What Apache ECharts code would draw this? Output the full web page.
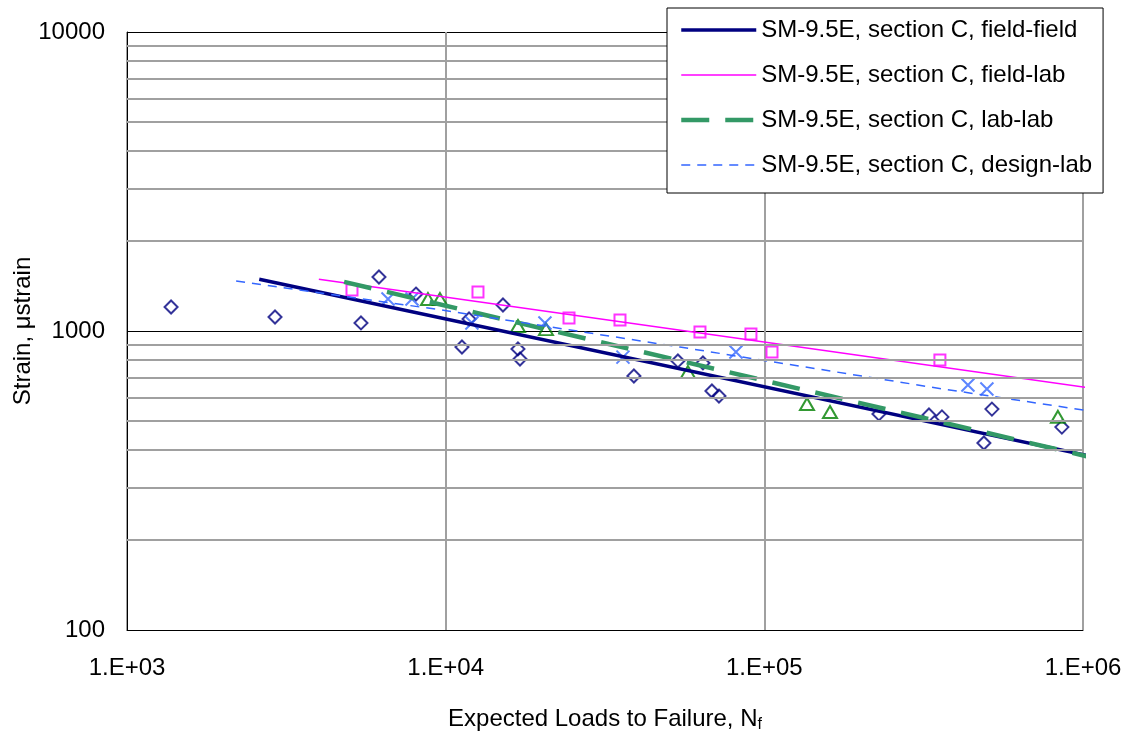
<!DOCTYPE html>
<html><head><meta charset="utf-8">
<script src="https://cdn.jsdelivr.net/npm/echarts@6/dist/echarts.min.js"></script>
<style>html,body{margin:0;padding:0;background:#fff}#c{width:1128px;height:734px}</style>
</head><body><div id="c"></div>
<script>
// ---- data ----
const lineNames = [
  'SM-9.5E, section C, field-field',
  'SM-9.5E, section C, field-lab',
  'SM-9.5E, section C, lab-lab',
  'SM-9.5E, section C, design-lab'
];
// fitted lines [loads, strain]
const fieldFieldLine = [[2600, 1490], [1050000, 382]];
const fieldLabLine   = [[4000, 1490], [1050000, 645]];
const labLabLine     = [[4800, 1460], [1050000, 379]];
const designLabLine  = [[2200, 1469], [9730, 1175], [54300, 884], [363000, 640], [1050000, 540]];
// measured points [loads, strain]
const fieldFieldPoints = [
  [1375, 1203], [2914, 1114], [5423, 1064], [6176, 1516], [8069, 1329],
  [11250, 884], [11840, 1097], [15130, 1222], [16860, 871], [17110, 806],
  [38970, 707], [53560, 794], [64180, 782], [68480, 630], [72050, 606],
  [228900, 528], [328600, 524], [360900, 516], [517900, 548], [488700, 422], [858500, 477]
];
const fieldLabPoints = [
  [5082, 1371], [12630, 1350], [24380, 1105], [35240, 1088],
  [62810, 992], [90780, 977], [105700, 851], [355600, 800]
];
const labLabPoints = [
  [8800, 1279], [9596, 1279], [16860, 1039], [20640, 1015],
  [57580, 729], [136100, 570], [160700, 536], [834100, 516]
];
const designLabPoints = [
  [6592, 1279], [7840, 1279], [12090, 1064], [20490, 1064],
  [36010, 818], [81460, 851], [435400, 660], [499400, 640]
];
// axis ranges and minor horizontal grid values
const xRange = [1000, 1000000];
const yRange = [100, 10000];
const yMinorGrid = [200, 300, 400, 500, 600, 700, 800, 900, 2000, 3000, 4000, 5000, 6000, 7000, 8000, 9000];
const xAxisTitle = 'Expected Loads to Failure, N';
const xAxisTitleSub = 'f';
const yAxisTitle = 'Strain, μstrain';

// ---- styles ----
const FONT = "'Liberation Sans', Arial, sans-serif";
const lineStyles = [
  {color: '#000080', width: 3.5, type: 'solid'},
  {color: '#ff00ff', width: 1.5, type: 'solid'},
  {color: '#339966', width: 4.5, type: [28, 16]},
  {color: '#3366ff', width: 1.5, type: [9, 7]}
];
const lineData = [fieldFieldLine, fieldLabLine, labLabLine, designLabLine];

const chart = echarts.init(document.getElementById('c'), null, {renderer: 'canvas'});

function hollow(color) {
  return {color: 'rgba(0,0,0,0)', borderColor: color, borderWidth: 2};
}
const NOFILL = {color: 'rgba(0,0,0,0)', opacity: 0};

const option = {
  animation: false,
  backgroundColor: '#ffffff',
  textStyle: {fontFamily: FONT, color: '#000'},
  grid: {left: 127, right: 45, top: 32, bottom: 104, containLabel: false, outerBoundsMode: 'none'},
  legend: {
    data: lineNames.map((n, i) => ({name: n, lineStyle: lineStyles[i]})),
    orient: 'vertical',
    left: 667, top: 8, z: 100, zlevel: 1,
    padding: [10, 11, 16, 12],
    itemWidth: 75, itemHeight: 14, itemGap: 21,
    backgroundColor: '#fff',
    borderColor: '#000', borderWidth: 1,
    textStyle: {fontSize: 24, fontFamily: FONT, color: '#000'},
    itemStyle: {opacity: 0},
    selectedMode: false
  },
  xAxis: {
    type: 'log', logBase: 10, min: xRange[0], max: xRange[1],
    name: xAxisTitle + xAxisTitleSub,
    nameLocation: 'middle', nameGap: 74,
    nameTextStyle: {
      fontSize: 24, color: '#000', fontFamily: FONT,
      rich: {
        a: {fontSize: 24, fontFamily: FONT, color: '#000', lineHeight: 30},
        s: {fontSize: 16, fontFamily: FONT, color: '#000', lineHeight: 30, padding: [12, 0, 0, 0]}
      }
    },
    axisLine: {onZero: false, lineStyle: {color: '#000', width: 1}},
    axisTick: {show: false},
    axisLabel: {
      fontSize: 24, color: '#000', margin: 26, fontFamily: FONT,
      formatter: function (v) {
        const e = Math.round(Math.log10(v));
        return '1.E+' + (e < 10 ? '0' : '') + e;
      }
    },
    splitLine: {show: true, lineStyle: {color: '#a0a0a0', width: 2}}
  },
  yAxis: {
    type: 'log', logBase: 10, min: yRange[0], max: yRange[1],
    name: yAxisTitle, nameLocation: 'middle', nameGap: 92, nameMoveOverlap: false,
    nameTextStyle: {fontSize: 24, color: '#000', fontFamily: FONT},
    axisLine: {onZero: false, lineStyle: {color: '#000', width: 1}},
    axisTick: {show: false},
    axisLabel: {
      fontSize: 24, color: '#000', margin: 22, fontFamily: FONT,
      formatter: function (v) { return String(Math.round(v)); }
    },
    splitLine: {show: true, lineStyle: {color: '#000', width: 1}}
  },
  series: [
    {
      name: 'minor-grid', type: 'scatter', data: [], silent: true, z: 1,
      markLine: {
        silent: true, symbol: ['none', 'none'], animation: false,
        label: {show: false},
        lineStyle: {color: '#a0a0a0', width: 2, type: 'solid'},
        data: yMinorGrid.map(v => ({yAxis: v}))
      }
    },
    {
      name: 'field-field data', type: 'scatter', data: fieldFieldPoints, z: 2,
      symbol: 'diamond', symbolSize: 13, itemStyle: hollow('#000080')
    },
    {
      name: 'field-lab data', type: 'scatter', data: fieldLabPoints, z: 2,
      symbol: 'rect', symbolSize: 11, itemStyle: hollow('#ff00ff')
    },
    {
      name: 'lab-lab data', type: 'scatter', data: labLabPoints, z: 2,
      symbol: 'triangle', symbolSize: [14, 12], itemStyle: hollow('#008000')
    },
    {
      name: 'design-lab data', type: 'scatter', data: designLabPoints, z: 2,
      symbol: 'path://M0,0L10,10M10,0L0,10', symbolSize: 13,
      itemStyle: {color: 'rgba(0,0,0,0)', borderColor: '#3366ff', borderWidth: 2}
    }
  ].concat(lineNames.map((n, i) => ({
    name: n, type: 'line', data: lineData[i], symbol: 'none', clip: false, z: 3,
    lineStyle: lineStyles[i], itemStyle: NOFILL
  })))
};
option.xAxis.name = '{a|' + xAxisTitle + '}{s|' + xAxisTitleSub + '}';
chart.setOption(option);
</script>
</body></html>
